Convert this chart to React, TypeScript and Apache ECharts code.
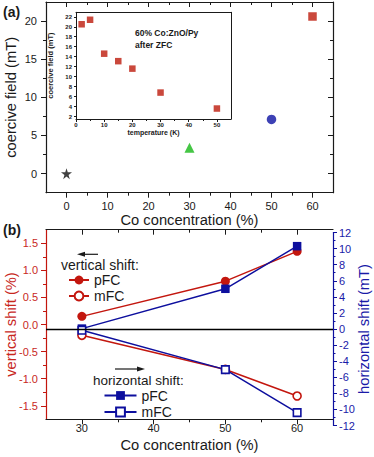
import React, { useEffect, useRef } from 'react';
import * as echarts from 'echarts';

// ---- data: panel (a) ----
const concentration = [0, 30, 50, 60];
const coerciveField = [0, 3.4, 7.1, 20.6];
const STAR = 'path://M50,0 L61,35 L98,35 L68,57 L79,91 L50,70 L21,91 L32,57 L2,35 L39,35 Z';
const markerShapes = [STAR, 'triangle', 'circle', 'rect'];
const markerColors = ['#111111', '#17b817', '#0d12a3', '#bd1a0b'];
const markerSizes = [11, 10, 9.5, 8.5];

// ---- data: inset ----
const insetTemperature = [2, 5, 10, 15, 20, 30, 50];
const insetField = [20.5, 21.4, 14.6, 13.1, 11.6, 6.8, 3.6];

// ---- data: panel (b) ----
const shiftConcentration = [30, 50, 60];
const verticalPFC = [0.15, 0.8, 1.35];
const verticalMFC = [-0.2, -0.83, -1.32];
const horizontalPFC = [0.05, 5.0, 10.3];
const horizontalMFC = [-0.15, -5.05, -10.4];

// ---- tick values ----
const mainXTicks = [0, 10, 20, 30, 40, 50, 60];
const mainXMinor = [5, 15, 25, 35, 45, 55];
const mainYTicks = [0, 5, 10, 15, 20];
const mainYMinor = [2.5, 7.5, 12.5, 17.5];
const insetXTicks = [0, 10, 20, 30, 40, 50];
const insetXMinor = [5, 15, 25, 35, 45];
const insetYTicks = [2, 4, 6, 8, 10, 12, 14, 16, 18, 20, 22];
const shiftXTicks = [30, 40, 50, 60];
const shiftXMinor = [35, 45, 55];
const vertTicks = [-1.5, -1.0, -0.5, 0, 0.5, 1.0, 1.5];
const vertMinor = [-1.25, -0.75, -0.25, 0.25, 0.75, 1.25];
const horTicks = [-12, -10, -8, -6, -4, -2, 0, 2, 4, 6, 8, 10, 12];
const horMinor = [-11, -9, -7, -5, -3, -1, 1, 3, 5, 7, 9, 11];

const FONT = '"Liberation Sans", Arial, Helvetica, sans-serif';
const BLACK = '#1a1a1a';
const RED = '#c3160e';
const RED_TXT = '#c8281e';
const BLUE = '#0d0f9e';
const BLUE_TXT = '#1a1aa8';

function ax(o: any) {
  return {
    type: 'value',
    gridIndex: o.grid,
    position: o.position,
    min: o.min,
    max: o.max,
    axisLine: { show: !!o.line, onZero: false, lineStyle: { color: o.color || BLACK, width: o.lineWidth || 1.2 } },
    axisTick: {
      show: !!o.ticks,
      inside: !!o.inside,
      length: o.tickLen || 5,
      customValues: o.ticks || [],
      lineStyle: { color: o.color || BLACK, width: 1 },
    },
    axisLabel: {
      show: !!o.labels,
      customValues: o.labels || [],
      margin: o.margin ?? 8,
      color: o.labelColor || BLACK,
      fontSize: o.fontSize || 11,
      fontWeight: o.bold ? 'bold' : 'normal',
      fontFamily: FONT,
      formatter: o.formatter,
    },
    splitLine: { show: false },
    name: o.name,
    nameLocation: 'middle',
    nameGap: o.nameGap,
    nameMoveOverlap: false,
    nameTextStyle: {
      fontSize: o.nameSize || 14.7,
      fontFamily: FONT,
      fontWeight: o.bold ? 'bold' : 'normal',
      color: o.labelColor || BLACK,
    },
    silent: true,
  };
}

export default function App() {
  const ref = useRef<HTMLDivElement>(null);
  useEffect(() => {
    if (!ref.current) return;
    const chart = echarts.init(ref.current, undefined, { renderer: 'svg' });

    const fix1 = (v: number) => v.toFixed(1);
    const g = (left: number, top: number, width: number, height: number) => ({
      left, top, width, height, containLabel: false, outerBoundsMode: 'none',
    });

    const option: any = {
      animation: false,
      backgroundColor: '#ffffff',
      grid: [
        g(46, 2, 287, 190.7),
        g(76, 12.3, 155, 106.7),
        g(46, 229.7, 287, 189.6),
        g(46, 232.5, 287, 193),
      ],
      xAxis: [
        ax({ grid: 0, position: 'bottom', min: -5, max: 65, line: true, ticks: mainXTicks, labels: mainXTicks, margin: 8, name: 'Co concentration (%)', nameGap: 20 }),
        ax({ grid: 0, position: 'bottom', min: -5, max: 65, ticks: mainXMinor, tickLen: 3 }),
        ax({ grid: 0, position: 'top', min: -5, max: 65, line: true, ticks: mainXTicks, inside: true }),
        ax({ grid: 0, position: 'top', min: -5, max: 65, ticks: mainXMinor, inside: true, tickLen: 3 }),
        ax({ grid: 1, position: 'bottom', min: 0, max: 55, line: true, lineWidth: 1, ticks: insetXTicks, tickLen: 3, labels: insetXTicks, margin: 3, fontSize: 6, bold: true, name: 'temperature (K)', nameGap: 10, nameSize: 7 }),
        ax({ grid: 1, position: 'bottom', min: 0, max: 55, ticks: insetXMinor, tickLen: 2 }),
        ax({ grid: 1, position: 'top', min: 0, max: 55, line: true, lineWidth: 1 }),
        ax({ grid: 2, position: 'bottom', min: 25, max: 65, line: true, ticks: shiftXTicks, labels: shiftXTicks, margin: 3, name: 'Co concentration (%)', nameGap: 18 }),
        ax({ grid: 2, position: 'bottom', min: 25, max: 65, ticks: shiftXMinor, tickLen: 3 }),
        ax({ grid: 2, position: 'top', min: 25, max: 65, line: true, ticks: shiftXTicks, inside: true }),
        ax({ grid: 2, position: 'top', min: 25, max: 65, ticks: shiftXMinor, inside: true, tickLen: 3 }),
        ax({ grid: 3, position: 'bottom', min: 25, max: 65 }),
      ],
      yAxis: [
        ax({ grid: 0, position: 'left', min: -2.5, max: 22.5, line: true, ticks: mainYTicks, labels: mainYTicks, margin: 9, name: 'coercive field (mT)', nameGap: 28 }),
        ax({ grid: 0, position: 'left', min: -2.5, max: 22.5, ticks: mainYMinor, tickLen: 3 }),
        ax({ grid: 0, position: 'right', min: -2.5, max: 22.5, line: true, ticks: mainYTicks, inside: true }),
        ax({ grid: 0, position: 'right', min: -2.5, max: 22.5, ticks: mainYMinor, inside: true, tickLen: 3 }),
        ax({ grid: 1, position: 'left', min: 1.5, max: 22.9, line: true, lineWidth: 1, ticks: insetYTicks, tickLen: 2, labels: insetYTicks, margin: 4, fontSize: 6, bold: true, name: 'coercive field (mT)', nameGap: 22, nameSize: 7.5 }),
        ax({ grid: 1, position: 'right', min: 1.5, max: 22.9, line: true, lineWidth: 1 }),
        ax({ grid: 2, position: 'left', min: -1.75, max: 1.75, line: true, color: RED, labelColor: RED_TXT, ticks: vertTicks, labels: vertTicks, formatter: fix1, margin: 8, name: 'vertical shift (%)', nameGap: 28 }),
        ax({ grid: 2, position: 'left', min: -1.75, max: 1.75, color: RED, ticks: vertMinor, tickLen: 3 }),
        ax({ grid: 3, position: 'right', min: -12, max: 12, line: true, color: BLUE, labelColor: BLUE_TXT, ticks: horTicks, tickLen: 4, labels: horTicks, margin: 6, name: 'horizontal shift (mT)', nameGap: 23 }),
        ax({ grid: 3, position: 'right', min: -12, max: 12, color: BLUE, ticks: horMinor, tickLen: 2.5 }),
      ],
      legend: [
        {
          data: ['vertical pFC', 'vertical mFC'],
          orient: 'vertical', left: 68, top: 273, padding: 0,
          itemWidth: 20, itemHeight: 11, itemGap: 2, selectedMode: false,
          formatter: (n: string) => n.replace(/^\S+ /, ''),
          textStyle: { fontSize: 14, color: BLACK, fontFamily: FONT },
        },
        {
          data: ['horizontal pFC', 'horizontal mFC'],
          orient: 'vertical', left: 103.5, top: 388.5, padding: 0,
          itemWidth: 32, itemHeight: 11, itemGap: 2.5, selectedMode: false,
          formatter: (n: string) => n.replace(/^\S+ /, ''),
          textStyle: { fontSize: 14, color: BLACK, fontFamily: FONT },
        },
      ],
      series: [
        {
          type: 'scatter', xAxisIndex: 0, yAxisIndex: 0,
          data: concentration.map((c, i) => ({
            value: [c, coerciveField[i]],
            symbol: markerShapes[i],
            symbolSize: markerSizes[i],
            itemStyle: { color: markerColors[i] },
          })),
        },
        {
          type: 'scatter', xAxisIndex: 4, yAxisIndex: 4,
          symbol: 'rect', symbolSize: 6.5,
          itemStyle: { color: '#bd1a0b' },
          data: insetTemperature.map((t, i) => [t, insetField[i]]),
        },
        {
          name: 'vertical pFC', type: 'line', xAxisIndex: 7, yAxisIndex: 6,
          symbol: 'circle', symbolSize: 9,
          itemStyle: { color: RED },
          lineStyle: { color: RED, width: 1.5 },
          data: shiftConcentration.map((c, i) => [c, verticalPFC[i]]),
        },
        {
          name: 'vertical mFC', type: 'line', xAxisIndex: 7, yAxisIndex: 6,
          symbol: 'circle', symbolSize: 8,
          itemStyle: { color: '#ffffff', borderColor: RED, borderWidth: 1.6 },
          lineStyle: { color: RED, width: 1.5 },
          data: shiftConcentration.map((c, i) => [c, verticalMFC[i]]),
        },
        {
          name: 'horizontal pFC', type: 'line', xAxisIndex: 11, yAxisIndex: 8,
          symbol: 'rect', symbolSize: 8.5,
          itemStyle: { color: BLUE },
          lineStyle: { color: BLUE, width: 1.5 },
          data: shiftConcentration.map((c, i) => [c, horizontalPFC[i]]),
          markLine: {
            silent: true, symbol: ['none', 'none'], label: { show: false },
            lineStyle: { color: '#000000', width: 1.3, type: 'solid' },
            data: [{ yAxis: 0 }],
          },
        },
        {
          name: 'horizontal mFC', type: 'line', xAxisIndex: 11, yAxisIndex: 8,
          symbol: 'rect', symbolSize: 7.5,
          itemStyle: { color: '#ffffff', borderColor: BLUE, borderWidth: 1.6 },
          lineStyle: { color: BLUE, width: 1.5 },
          data: shiftConcentration.map((c, i) => [c, horizontalMFC[i]]),
        },
      ],
      graphic: [
        { type: 'text', left: 3, top: 5, style: { text: '(a)', font: `bold 14px ${FONT}`, fill: BLACK } },
        { type: 'text', left: 3, top: 223, style: { text: '(b)', font: `bold 14px ${FONT}`, fill: BLACK } },
        { type: 'text', left: 135, top: 28.5, style: { text: '60% Co:ZnO/Py', font: `bold 8.5px ${FONT}`, fill: BLACK } },
        { type: 'text', left: 135, top: 40.5, style: { text: 'after ZFC', font: `bold 8.5px ${FONT}`, fill: BLACK } },
        { type: 'text', left: 61, top: 258, style: { text: 'vertical shift:', font: `14px ${FONT}`, fill: BLACK } },
        { type: 'text', left: 93, top: 373.5, style: { text: 'horizontal shift:', font: `13.5px ${FONT}`, fill: BLACK } },
        { type: 'line', shape: { x1: 82, y1: 254.3, x2: 98, y2: 254.3 }, style: { stroke: BLACK, lineWidth: 1.2 } },
        { type: 'polygon', shape: { points: [[77, 254.3], [85, 251.8], [85, 256.8]] }, style: { fill: BLACK } },
        { type: 'line', shape: { x1: 115, y1: 369, x2: 139, y2: 369 }, style: { stroke: BLACK, lineWidth: 1.2 } },
        { type: 'polygon', shape: { points: [[145, 369], [137, 366.5], [137, 371.5]] }, style: { fill: BLACK } },
      ],
    };

    chart.setOption(option);
    return () => chart.dispose();
  }, []);

  return (
    <div
      ref={ref}
      style={{ position: 'fixed', left: 0, top: 0, width: 374, height: 457, background: '#fff' }}
    />
  );
}
